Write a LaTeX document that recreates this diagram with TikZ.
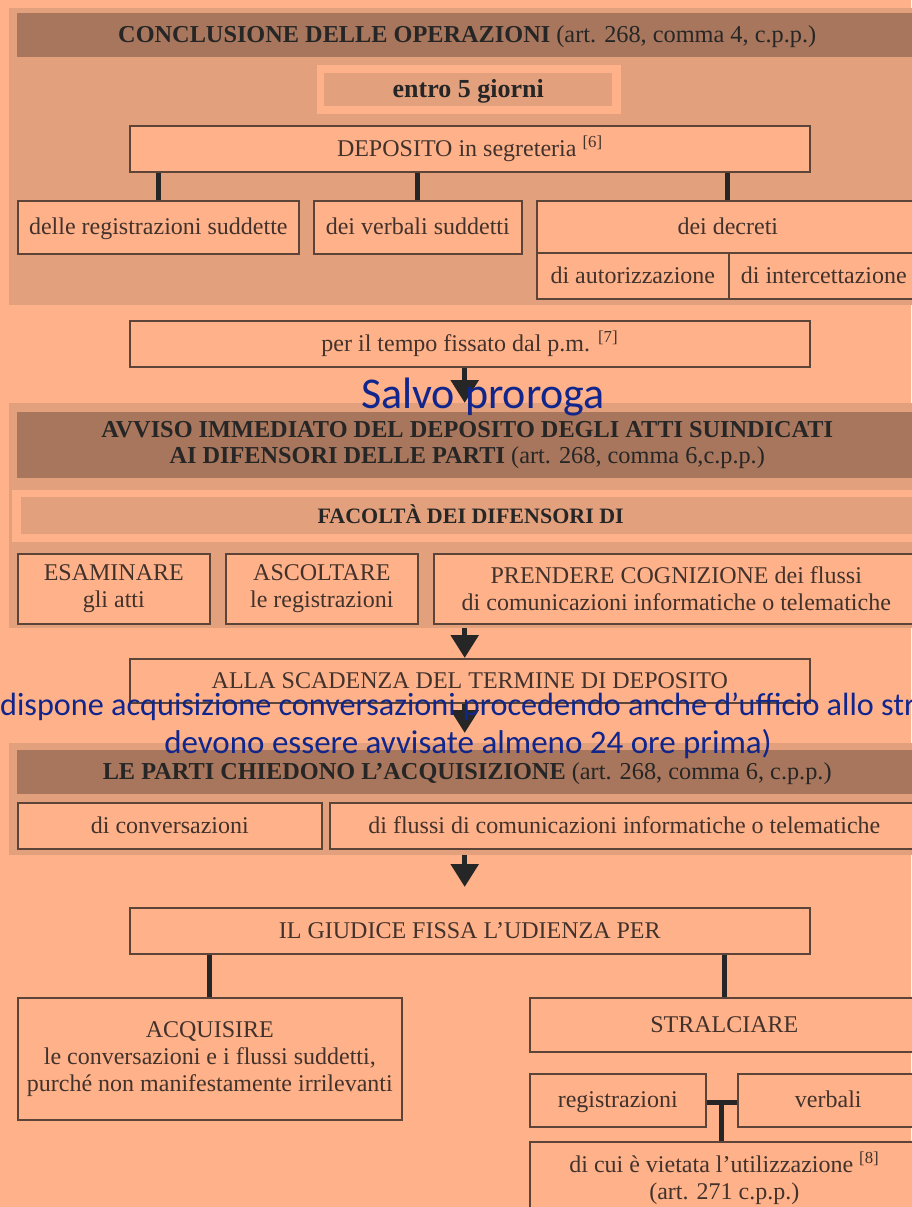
\documentclass[tikz,border=0pt]{standalone}
\usepackage{fontspec}
\setmainfont{Liberation Serif}
\newfontfamily\calfont{Carlito}
\usetikzlibrary{arrows.meta,calc}
\definecolor{salmone}{RGB}{255,177,137}
\definecolor{pannello}{RGB}{227,160,125}
\definecolor{testata}{RGB}{168,118,92}
\definecolor{bordo}{RGB}{92,68,56}
\definecolor{inchiostro}{RGB}{66,50,44}
\definecolor{blu}{RGB}{16,38,140}
\begin{document}
\begin{tikzpicture}[x=1pt,y=-1pt,
 box/.style={draw=bordo,line width=1.6pt,fill=salmone,text=inchiostro,anchor=north west,inner sep=0pt,align=center,font=\fontsize{24}{27}\selectfont},
 riga/.style={text height=15pt,text depth=0pt},
 panel/.style={fill=pannello,anchor=north west,inner sep=0pt},
 frame/.style={fill=salmone,anchor=north west,inner sep=0pt},
 bar/.style={fill=testata,anchor=north west,inner sep=0pt,align=center,text=black!85,font=\fontsize{24.3}{26}\selectfont},
 link/.style={line width=5pt,black!85},
 down/.style={line width=5.5pt,black!85,-{Triangle[width=27pt,length=23pt]}},
 note/.style={text=blu,inner sep=0pt,font=\calfont\fontsize{33}{38}\selectfont}]
 \useasboundingbox (0,0) rectangle (911,1207);
 \fill[salmone] (0,0) rectangle (911,1207);

 \node[panel,minimum width=911pt,minimum height=297pt] (pan1) at (9,8) {};
 \node[bar,riga,minimum width=900pt,minimum height=44pt] (ops) at (17,13) {\textbf{CONCLUSIONE DELLE OPERAZIONI} (art. 268, comma 4, c.p.p.)};
 \node[frame,minimum width=304pt,minimum height=49pt] (termf) at (317,65) {};
 \node[panel,riga,minimum width=288pt,minimum height=33pt,text=black!85,font=\fontsize{26}{28}\selectfont\bfseries] (term) at (324,73) {entro 5 giorni};
 \node[box,riga,minimum width=680pt,minimum height=46pt] (dep) at (129,125) {DEPOSITO in segreteria \textsuperscript{[6]}};
 \node[box,riga,minimum width=281pt,minimum height=53pt] (reg) at (17,200) {delle registrazioni suddette};
 \node[box,riga,minimum width=208pt,minimum height=53pt] (verb) at (313,200) {dei verbali suddetti};
 \node[box,riga,minimum width=382pt,minimum height=52pt] (decr) at (536,200) {dei decreti};
 \node[box,riga,minimum width=192pt,minimum height=46pt] (aut) at (536,252) {di autorizzazione};
 \node[box,riga,minimum width=190pt,minimum height=46pt] (intc) at (728,252) {di intercettazione};
 \draw[link] (dep.south -| reg.north) -- (reg.north);
 \draw[link] (dep.south -| verb.north) -- (verb.north);
 \draw[link] (dep.south -| decr.north) -- (decr.north);

 \node[box,riga,minimum width=680pt,minimum height=46pt] (tempo) at (129,320) {per il tempo fissato dal p.m. \textsuperscript{[7]}};

 \node[panel,minimum width=911pt,minimum height=225pt] (pan2) at (9,403) {};
 \node[bar,minimum width=900pt,minimum height=66pt] (avv) at (17,412) {\textbf{AVVISO IMMEDIATO DEL DEPOSITO DEGLI ATTI SUINDICATI}\\\textbf{AI DIFENSORI DELLE PARTI} (art. 268, comma 6,c.p.p.)};
 \node[frame,minimum width=908pt,minimum height=52pt] (facf) at (12,490) {};
 \node[panel,riga,minimum width=899pt,minimum height=37pt,text=black!85,font=\fontsize{22}{26}\selectfont\bfseries] (fac) at (21,497) {FACOLTÀ DEI DIFENSORI DI};
 \node[box,minimum width=192pt,minimum height=70pt] (esa) at (17,553) {ESAMINARE\\gli atti};
 \node[box,minimum width=192pt,minimum height=70pt] (asc) at (225,553) {ASCOLTARE\\le registrazioni};
 \node[box,minimum width=485pt,minimum height=70pt] (pre) at (433,553) {PRENDERE COGNIZIONE dei flussi\\di comunicazioni informatiche o telematiche};
 \draw[down] (pan2.north |- tempo.south) -- (pan2.north);
 \node[note,anchor=base,font=\calfont\fontsize{44}{48}\selectfont] (salvo) at (483,408) {Salvo proroga};

 \node[box,riga,minimum width=680pt,minimum height=44pt] (alla) at (129,658) {ALLA SCADENZA DEL TERMINE DI DEPOSITO};
 \draw[down] (pan2.south) -- (pan2.south |- alla.north);

 \node[panel,minimum width=911pt,minimum height=112pt] (pan3) at (9,743) {};
 \node[bar,riga,minimum width=900pt,minimum height=44pt] (parti) at (17,750) {\textbf{LE PARTI CHIEDONO L’ACQUISIZIONE} (art. 268, comma 6, c.p.p.)};
 \node[box,riga,minimum width=304pt,minimum height=46pt] (conv) at (17,802) {di conversazioni};
 \node[box,riga,minimum width=589pt,minimum height=46pt] (flus) at (329,802) {di flussi di comunicazioni informatiche o telematiche};
 \draw[down] (pan3.north |- alla.south) -- ([yshift=10pt]pan3.north);
 \node[note,anchor=base west,font=\calfont\fontsize{32.2}{38}\selectfont] (disp) at (0,715) {dispone acquisizione conversazioni procedendo anche d’ufficio allo str};
 \node[note,anchor=base] (avvis) at (468,753) {devono essere avvisate almeno 24 ore prima)};

 \node[box,riga,minimum width=680pt,minimum height=46pt] (giud) at (129,907) {IL GIUDICE FISSA L’UDIENZA PER};
 \coordinate (giudn) at (pan3.south |- giud.north);
 \draw[down] (pan3.south) -- ([yshift=20pt]giudn);
 \node[box,minimum width=384pt,minimum height=122pt] (acq) at (17,997) {ACQUISIRE\\le conversazioni e i flussi suddetti,\\purché non manifestamente irrilevanti};
 \node[box,riga,minimum width=389pt,minimum height=54pt] (stral) at (529,997) {STRALCIARE};
 \node[box,riga,minimum width=176pt,minimum height=53pt] (reg2) at (529,1073) {registrazioni};
 \node[box,riga,minimum width=181pt,minimum height=53pt] (verb2) at (737,1073) {verbali};
 \node[box,minimum width=389pt,minimum height=72pt] (cui) at (529,1141) {di cui è vietata l’utilizzazione \textsuperscript{[8]}\\(art. 271 c.p.p.)};
 \draw[link] (giud.south -| acq.north) -- (acq.north);
 \draw[link] (giud.south -| stral.north) -- (stral.north);
 \draw[link] ([yshift=-2.5pt]reg2.east) -- ([yshift=-2.5pt]verb2.west);
 \coordinate (snodo) at ($(reg2.east)!.5!(verb2.west)$);
 \draw[link] (snodo) -- (snodo |- cui.north);
\end{tikzpicture}
\end{document}
